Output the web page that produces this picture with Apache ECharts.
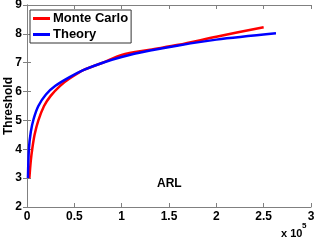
<!DOCTYPE html>
<html><head><meta charset="utf-8">
<script src="https://cdn.jsdelivr.net/npm/echarts@6/dist/echarts.min.js"></script>
<style>html,body{margin:0;padding:0;background:#fff}#c{width:316px;height:242px}</style>
</head><body><div id="c"></div>
<script>
const xTicks = [0, 0.5, 1, 1.5, 2, 2.5, 3];
const yTicks = [2, 3, 4, 5, 6, 7, 8, 9];
const mcARL = [2500, 4000, 5500, 8000, 12000, 18000, 25000, 35000, 45000, 60000, 80000, 100000, 130000, 160000, 200000, 250000];
const mcThr = [3.0, 3.6, 4.0, 4.5, 5.0, 5.5, 5.85, 6.2, 6.45, 6.75, 7.0, 7.27, 7.45, 7.62, 7.9, 8.23];
const thARL = [1000, 2000, 4000, 7000, 12000, 20000, 30000, 45000, 60000, 80000, 100000, 130000, 160000, 200000, 263000];
const thThr = [3.0, 4.0, 4.6, 5.05, 5.5, 5.9, 6.2, 6.5, 6.75, 7.0, 7.2, 7.42, 7.6, 7.8, 8.02];
const seriesNames = ['Monte Carlo', 'Theory'];

const font = 'Liberation Sans, Arial, sans-serif';
const axCol = '#808080';
const chart = echarts.init(document.getElementById('c'), null, {renderer: 'canvas'});
const xBase = {min: 0, max: 300000, interval: 50000, type: 'value',
  axisLine: {show: true, lineStyle: {color: axCol, width: 1}},
  axisTick: {show: true, inside: true, length: 4, lineStyle: {color: axCol}},
  splitLine: {show: false}};
const yBase = {min: 2, max: 9, interval: 1, type: 'value',
  axisLine: {show: true, lineStyle: {color: axCol, width: 1}},
  axisTick: {show: true, inside: true, length: 4, lineStyle: {color: axCol}},
  splitLine: {show: false}};
chart.setOption({
  animation: false,
  grid: {left: 27, right: 5, top: 5, bottom: 35, containLabel: false, outerBoundsMode: 'none'},
  legend: {
    left: 30, top: 10, orient: 'vertical', itemGap: 3, itemWidth: 17, itemHeight: 3,
    padding: [2, 3, 2, 3],
    borderColor: '#333', borderWidth: 1, backgroundColor: '#fff',
    icon: 'rect',
    textStyle: {fontFamily: font, fontWeight: 'bold', fontSize: 13, color: '#000', padding: [0, 0, 0, -2]},
    data: seriesNames
  },
  xAxis: [
    Object.assign({}, xBase, {position: 'bottom',
      axisLabel: {show: true, margin: 4, fontFamily: font, fontWeight: 'bold', fontSize: 12, color: '#000',
        formatter: v => { const t = v / 1e5; return xTicks.includes(t) ? String(t) : ''; }}}),
    Object.assign({}, xBase, {position: 'top', axisLabel: {show: false}})
  ],
  yAxis: [
    Object.assign({}, yBase, {position: 'left',
      axisLabel: {show: true, margin: 5, fontFamily: font, fontWeight: 'bold', fontSize: 12, color: '#000',
        formatter: v => yTicks.includes(v) ? String(v) : ''}}),
    Object.assign({}, yBase, {position: 'right', axisLabel: {show: false}})
  ],
  graphic: [
    {type: 'text', x: 9, y: 106, rotation: Math.PI / 2,
      style: {text: 'Threshold', font: 'bold 12px ' + font, fill: '#000', align: 'center', verticalAlign: 'middle'}},
    {type: 'text', left: 157, top: 178, style: {text: 'ARL', font: 'bold 12px ' + font, fill: '#000'}},
    {type: 'text', left: 281, top: 228, style: {text: 'x 10', font: 'bold 11px ' + font, fill: '#000'}},
    {type: 'text', left: 302, top: 222, style: {text: '5', font: 'bold 8px ' + font, fill: '#000'}}
  ],
  series: [
    {name: seriesNames[0], type: 'line', showSymbol: false, smooth: 0.3, color: '#ff0000',
      lineStyle: {width: 2.5, color: '#ff0000'}, data: mcARL.map((x, i) => [x, mcThr[i]])},
    {name: seriesNames[1], type: 'line', showSymbol: false, smooth: 0.3, color: '#0000ff',
      lineStyle: {width: 2.5, color: '#0000ff'}, data: thARL.map((x, i) => [x, thThr[i]])}
  ]
});
</script></body></html>
